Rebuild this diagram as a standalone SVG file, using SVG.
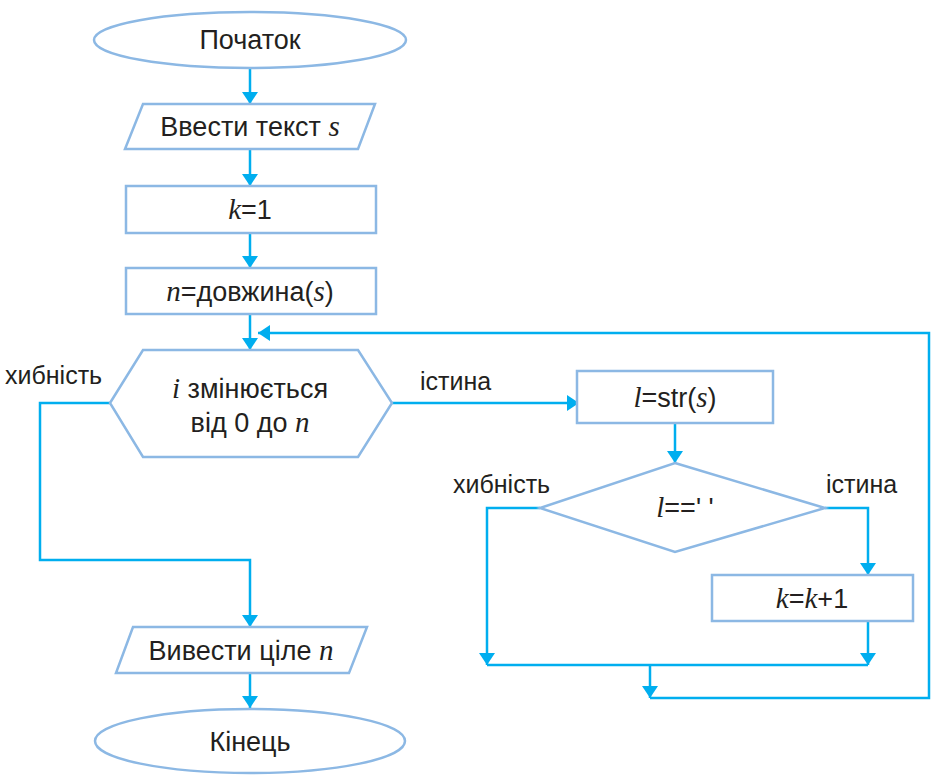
<svg xmlns="http://www.w3.org/2000/svg" width="945" height="783" viewBox="0 0 945 783">
<style>
.s{fill:#fff;stroke:#8cb8e4;stroke-width:2.5}
.c{fill:none;stroke:#00aeef;stroke-width:2.5}
.t{font-family:"Liberation Sans",Arial,sans-serif;font-size:27px;fill:#231f20;text-anchor:middle}
.l{font-family:"Liberation Sans",Arial,sans-serif;font-size:25px;fill:#231f20}
.v{font-family:"Liberation Serif","DejaVu Serif",serif;font-style:italic;font-size:29px}
</style>
<defs>
<marker id="a" viewBox="0 0 12 16" refX="12" refY="8" markerWidth="12" markerHeight="16" markerUnits="userSpaceOnUse" orient="auto">
<path d="M0,0 L12,8 L0,16 Z" fill="#00aeef"/>
</marker>
</defs>
<g id="connectors">
<path class="c" d="M250,68 V104" marker-end="url(#a)"/>
<path class="c" d="M250,149 V186" marker-end="url(#a)"/>
<path class="c" d="M250,233 V268" marker-end="url(#a)"/>
<path class="c" d="M250,314 V350" marker-end="url(#a)"/>
<path class="c" d="M110,403 H40 V560 H250 V627" marker-end="url(#a)"/>
<path class="c" d="M250,673 V708" marker-end="url(#a)"/>
<path class="c" d="M392,403 H579" marker-end="url(#a)"/>
<path class="c" d="M675,423 V463" marker-end="url(#a)"/>
<path class="c" d="M540,508 H487 V665" marker-end="url(#a)"/>
<path class="c" d="M825,508 H868 V575" marker-end="url(#a)"/>
<path class="c" d="M868,621 V665" marker-end="url(#a)"/>
<path class="c" d="M487,665 H868"/>
<path class="c" d="M650,665 V698" marker-end="url(#a)"/>
<path class="c" d="M650,698 H929 V333 H258" marker-end="url(#a)"/>
</g>
<g id="start">
<ellipse class="s" cx="250" cy="40" rx="156" ry="28"/>
<text class="t" x="250" y="49">Початок</text>
</g>
<g id="input">
<polygon class="s" points="143,104 375,104 358,149 125,149"/>
<text class="t" x="250" y="136">Ввести текст <tspan class="v">s</tspan></text>
</g>
<g id="k1">
<rect class="s" x="126" y="186" width="250" height="47"/>
<text class="t" x="250" y="219"><tspan class="v">k</tspan>=1</text>
</g>
<g id="n">
<rect class="s" x="126" y="268" width="250" height="46"/>
<text class="t" x="250" y="301"><tspan class="v">n</tspan>=довжина(<tspan class="v">s</tspan>)</text>
</g>
<g id="loop">
<polygon class="s" points="110,403 143,350 358,350 392,403 358,457 143,457"/>
<text class="t" x="250" y="398"><tspan class="v">i</tspan> змінюється</text>
<text class="t" x="250" y="432">від 0 до <tspan class="v">n</tspan></text>
</g>
<g id="lstr">
<rect class="s" x="577" y="371" width="196" height="52"/>
<text class="t" x="675" y="407"><tspan class="v">l</tspan>=str(<tspan class="v">s</tspan>)</text>
</g>
<g id="cond">
<polygon class="s" points="675,463 825,508 675,552 540,508"/>
<text class="t" x="685" y="517"><tspan class="v">l</tspan>==' '</text>
</g>
<g id="kinc">
<rect class="s" x="712" y="575" width="201" height="46"/>
<text class="t" x="812" y="608"><tspan class="v">k</tspan>=<tspan class="v">k</tspan>+1</text>
</g>
<g id="output">
<polygon class="s" points="133,627 367,627 349,673 116,673"/>
<text class="t" x="241" y="660">Вивести ціле <tspan class="v">n</tspan></text>
</g>
<g id="end">
<ellipse class="s" cx="250" cy="741" rx="155" ry="32"/>
<text class="t" x="250" y="751">Кінець</text>
</g>
<g id="labels">
<text class="l" x="5" y="384">хибність</text>
<text class="l" x="420" y="390">істина</text>
<text class="l" x="453" y="493">хибність</text>
<text class="l" x="826" y="493">істина</text>
</g>
</svg>
